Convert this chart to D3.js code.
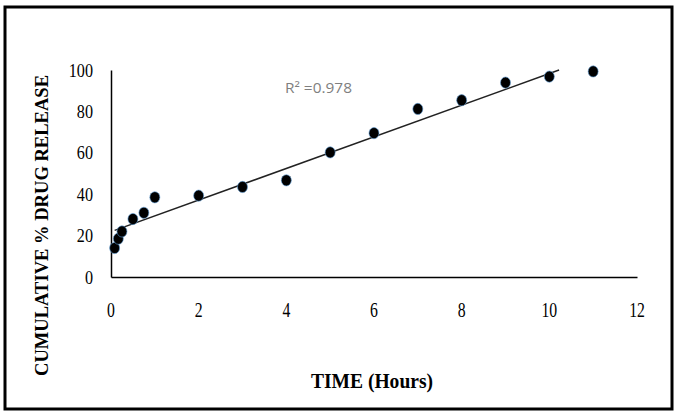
<!DOCTYPE html>
<html>
<head>
<meta charset="utf-8">
<script src="https://cdn.jsdelivr.net/npm/d3@7"></script>
<style>
  html, body { margin: 0; padding: 0; background: #fff; }
  svg { display: block; }
</style>
</head>
<body>
<svg id="chart" width="674" height="412"></svg>
<script>
// ---- data ----
const timeHours = [0.083, 0.167, 0.25, 0.5, 0.75, 1, 2, 3, 4, 5, 6, 7, 8, 9, 10, 11];
const releasePct = [14.0, 18.5, 22.0, 28.0, 31.0, 38.5, 39.3, 43.5, 46.7, 60.2, 69.5, 81.2, 85.4, 93.9, 96.8, 99.3];
const xTicks = [0, 2, 4, 6, 8, 10, 12];
const yTicks = [0, 20, 40, 60, 80, 100];
const rSquaredLabel = "R\u00B2 =0.978";
const xTitle = "TIME (Hours)";
const yTitle = "CUMULATIVE % DRUG RELEASE";

const svg = d3.select("#chart");

// outer frame
svg.append("rect")
  .attr("x", 5).attr("y", 7)
  .attr("width", 667).attr("height", 402)
  .attr("fill", "none").attr("stroke", "#000").attr("stroke-width", 3);

const x = d3.scaleLinear().domain([0, 12]).range([111, 637]);
const y = d3.scaleLinear().domain([0, 100]).range([277, 70]);

// axes lines (no ticks)
const xAxis = svg.append("g").attr("transform", `translate(0,${y(0)})`)
  .call(d3.axisBottom(x).tickValues(xTicks).tickSize(0).tickFormat(""));
xAxis.select(".domain").attr("stroke", "#000").attr("stroke-width", 1.5);
const yAxis = svg.append("g").attr("transform", `translate(${x(0)},0)`)
  .call(d3.axisLeft(y).tickValues(yTicks).tickSize(0).tickFormat(""));
yAxis.select(".domain").attr("stroke", "#000").attr("stroke-width", 1.5);

// tick labels (condensed serif look)
svg.append("g").selectAll("text").data(xTicks).join("text")
  .attr("transform", d => `translate(${x(d)},317) scale(0.75,1)`)
  .attr("text-anchor", "middle")
  .attr("font-family", "Liberation Serif, Times New Roman, serif")
  .attr("font-size", 21)
  .attr("fill", "#000")
  .text(d => d);

svg.append("g").selectAll("text").data(yTicks).join("text")
  .attr("transform", d => `translate(93,${y(d) + 6.5}) scale(0.85,1)`)
  .attr("text-anchor", "end")
  .attr("font-family", "Liberation Serif, Times New Roman, serif")
  .attr("font-size", 19)
  .attr("fill", "#000")
  .text(d => d);

// linear regression trendline
const n = timeHours.length;
const mx = d3.mean(timeHours), my = d3.mean(releasePct);
let sxy = 0, sxx = 0;
for (let i = 0; i < n; i++) {
  sxy += (timeHours[i] - mx) * (releasePct[i] - my);
  sxx += (timeHours[i] - mx) ** 2;
}
const slope = sxy / sxx, intercept = my - slope * mx;
const t0 = d3.min(timeHours);
const t1 = Math.min(d3.max(timeHours), (100 - intercept) / slope);
svg.append("line")
  .attr("x1", x(t0)).attr("y1", y(intercept + slope * t0))
  .attr("x2", x(t1)).attr("y2", y(intercept + slope * t1))
  .attr("stroke", "#222").attr("stroke-width", 1.5);

// points
svg.append("g").selectAll("ellipse").data(timeHours.map((t, i) => [t, releasePct[i]])).join("ellipse")
  .attr("cx", d => x(d[0])).attr("cy", d => y(d[1]))
  .attr("rx", 5).attr("ry", 5.6)
  .attr("fill", "#000")
  .attr("stroke", "#5b9bd5").attr("stroke-opacity", 0.6).attr("stroke-width", 1);

// R² label
svg.append("text")
  .attr("x", 285).attr("y", 93)
  .attr("font-family", "Open Sans, Liberation Sans, sans-serif")
  .attr("font-size", 14)
  .attr("fill", "#7f7f7f")
  .attr("textLength", 67).attr("lengthAdjust", "spacingAndGlyphs")
  .text(rSquaredLabel);

// axis titles
svg.append("text")
  .attr("x", 311).attr("y", 388)
  .attr("font-family", "Liberation Serif, Times New Roman, serif")
  .attr("font-weight", "bold")
  .attr("font-size", 21)
  .attr("fill", "#000")
  .attr("textLength", 122).attr("lengthAdjust", "spacingAndGlyphs")
  .text(xTitle);

svg.append("text")
  .attr("transform", "translate(48,376) rotate(-90)")
  .attr("font-family", "Liberation Serif, Times New Roman, serif")
  .attr("font-weight", "bold")
  .attr("font-size", 19)
  .attr("fill", "#000")
  .attr("textLength", 301).attr("lengthAdjust", "spacingAndGlyphs")
  .text(yTitle);
</script>
</body>
</html>
